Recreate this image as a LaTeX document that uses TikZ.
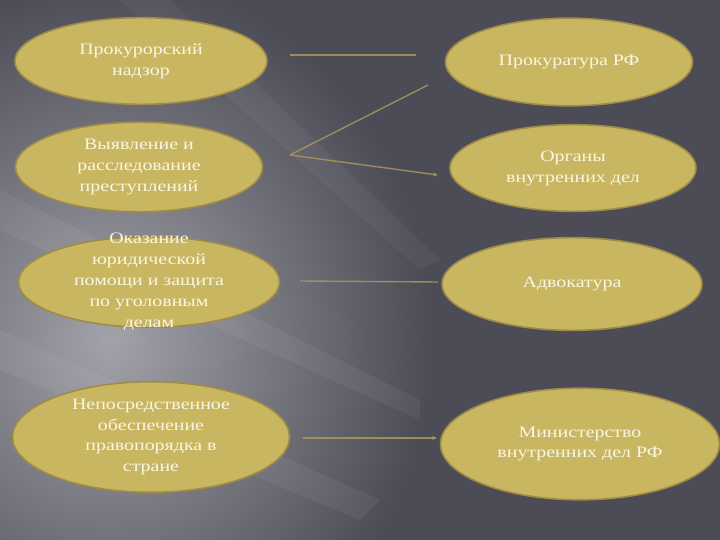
\documentclass[tikz,border=0pt]{standalone}
\usepackage{fontspec}
\setmainfont{Liberation Serif}[FakeStretch=1.25]
\usetikzlibrary{arrows.meta,shapes.geometric}

\definecolor{bgdark}{RGB}{76,76,86}
\definecolor{bglight}{RGB}{162,162,170}
\definecolor{ovalfill}{RGB}{201,182,96}
\definecolor{ovaledge}{RGB}{160,140,70}
\definecolor{textcream}{RGB}{250,246,230}
\definecolor{linkclr}{RGB}{172,152,92}

\begin{document}
\begin{tikzpicture}[
    x=1bp, y=-1bp,
    oval/.style={ellipse, draw=ovaledge, line width=1.6pt, fill=ovalfill, inner sep=0pt},
    ovaltext/.style={align=center, text=textcream, inner sep=0pt, font=\fontsize{16}{21}\selectfont},
    link/.style={draw=linkclr, line width=1.4pt, draw opacity=0.85},
    arrow/.style={link, -{Stealth[length=5pt, width=4pt]}}
]

% Background
\useasboundingbox (0,0) rectangle (720,540);
\fill[bgdark] (0,0) rectangle (720,540);
\begin{scope}
    \clip (0,0) rectangle (720,540);
    \shade[inner color=bglight, outer color=bgdark] (110,340) ellipse (320 and 360);
    \fill[white, opacity=0.05] (0,190) -- (0,230) -- (420,420) -- (420,400) -- cycle;
    \fill[white, opacity=0.05] (0,330) -- (0,370) -- (360,520) -- (380,500) -- cycle;
    \fill[white, opacity=0.04] (120,0) -- (170,0) -- (440,260) -- (420,270) -- cycle;
\end{scope}

% Functions
\node[oval, minimum width=253, minimum height=87] (supervision) at (141,61) {};
\node[ovaltext] at (supervision) {Прокурорский\\надзор};
\node[oval, minimum width=248, minimum height=90] (detection) at (139,167) {};
\node[ovaltext] at (detection) {Выявление и\\расследование\\преступлений};
\node[oval, minimum width=262, minimum height=91] (defence) at (149,282) {};
\node[ovaltext] at (defence) {Оказание\\юридической\\помощи и защита\\по уголовным\\делам};
\node[oval, minimum width=278, minimum height=111] (order) at (151,437) {};
\node[ovaltext] at (order) {Непосредственное\\обеспечение\\правопорядка в\\стране};

% Bodies
\node[oval, minimum width=248, minimum height=88] (prosecutor) at (569,62) {};
\node[ovaltext] at (prosecutor) {Прокуратура РФ};
\node[oval, minimum width=247, minimum height=87] (police) at (573,168) {};
\node[ovaltext] at (police) {Органы\\внутренних дел};
\node[oval, minimum width=261, minimum height=93] (bar) at (572,284) {};
\node[ovaltext] at (bar) {Адвокатура};
\node[oval, minimum width=280, minimum height=112] (ministry) at (580,444) {};
\node[ovaltext] at (ministry) {Министерство\\внутренних дел РФ};

% Link ends
\coordinate (s1) at (290,55);   \coordinate (e1) at (416,55);
\coordinate (s2) at (290,155);  \coordinate (e2) at (428,85);
\coordinate (e3) at (438,175);
\coordinate (s4) at (300,281);  \coordinate (e4) at (438,282);
\coordinate (s5) at (303,438);  \coordinate (e5) at (437,438);

% Connections
\draw[link] (s1) -- (e1);
\draw[link] (s2) -- (e2);
\draw[arrow] (s2) -- (e3);
\draw[link] (s4) -- (e4);
\draw[arrow] (s5) -- (e5);

\end{tikzpicture}
\end{document}
